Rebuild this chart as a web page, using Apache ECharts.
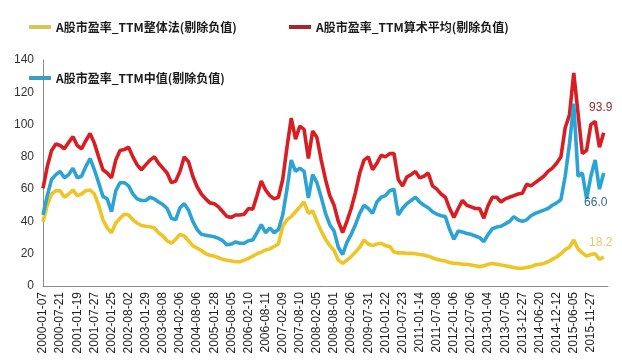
<!DOCTYPE html>
<html><head><meta charset="utf-8">
<script src="https://cdn.jsdelivr.net/npm/echarts@6/dist/echarts.min.js"></script>
<style>html,body{margin:0;padding:0;background:#fff}#c{width:622px;height:362px}</style>
</head><body><div id="c"></div>
<script>
// tick labels (one every POINTS_PER_LABEL data points)
const xLabels = ['2000-01-07','2000-07-21','2001-01-19','2001-07-27','2002-01-25','2002-08-02','2003-01-29','2003-08-08','2004-02-06','2004-08-06','2005-01-28','2005-08-05','2006-02-10','2006-08-11','2007-02-09','2007-08-10','2008-02-05','2008-08-01','2009-02-06','2009-07-31','2010-01-22','2010-07-23','2011-01-14','2011-07-08','2012-01-06','2012-07-06','2013-01-04','2013-07-05','2013-12-27','2014-06-20','2014-12-12','2015-06-05','2015-11-27'];
const POINTS_PER_LABEL = 4;

const seriesNames = ['A股市盈率_TTM整体法(剔除负值)','A股市盈率_TTM算术平均(剔除负值)','A股市盈率_TTM中值(剔除负值)'];

const peOverall = [
 39.8,50,57,59, 59,55,57,59.5, 56,57,59,59.5, 57,50,41,36,
 33,39,42,44.5, 44,41,39,37.5, 37,36.7,36,33, 31,28,26.5,29,
 32,31,28,25, 23.5,22,20,19, 18.5,17.5,16.5,16, 15.5,15,15,16,
 17,18.5,20,21, 22.3,23,24.5,26, 37,41,43,46, 49,52,45,46.5,
 40,34,29,25, 22,16,14,16, 18.2,21,24,28.5, 26,25,26,26.5,
 25,24.5,21,20.5, 20.5,20.2,20.2,20, 19.5,19.2,18.5,17.5, 16.5,16,15.5,14.5,
 14,14,13.5,13.5, 13,12.5,12,12.5, 13.5,14,13.5,13, 12.5,12,11.5,11,
 11,11.5,12,13, 13.5,14,15,16.5, 18,20,22.5,24, 28.5,23,20.5,18.5,
 19.5,20,16.5,18
];
const peMean = [
 60.5,74,84,88, 87,85,89,92.5, 87,85,90,94.5, 88.5,80,72,70,
 67,78,84,84.5, 86,80,75,72, 75,78,80,76, 73,70,64,65,
 71,80,77,68, 61.5,57,54,51.5, 51,49,46,43, 42.5,44,44,44.5,
 48,47.5,56,65, 59.5,56,54,55, 66,86,104,91, 99,97,79,96,
 92,78,66,56, 50,40,33,40, 48,58,70,78, 80,72,76,81,
 80,82,82,66, 62,67.5,69,71, 67,68,70,62, 60,57,55,48,
 42.5,48,53,50, 49,48,48,42, 50,55,55,52, 54,55,56,57,
 57.5,63,62,64, 66,68,71,73, 76,80,98,106, 132,107,82,84,
 100,102,86,95
];
const peMedian = [
 44,56,66,69, 71,67,69,73, 67,68,74,79, 72,64,55.5,54,
 46,59,64,64, 62,57,54,53, 53,55,54,52, 50.5,48,42,41,
 48.5,51,47,40, 35,32,31.5,31, 30.5,29.5,28,25.5, 26,27.3,26.5,26.5,
 28,28.5,33,38, 33,36,33,35, 44,60,78,71, 73,71,54.5,69,
 64,55,45,38, 34,24,19.5,27, 32,38,45,50, 48,45,52,55,
 56,59,60,44, 48,51,53,55, 52,50,48.5,46, 44.5,43.5,43,35,
 29,34,33.5,32.5, 32,31,30,27.5, 32,35.5,36.5,37, 38.5,40,43,41,
 40,41,43.5,45, 46,47,48,50, 51.5,53.5,68,88, 113,68,70,54,
 68,78,60,70
];
const endLabels = ['18.2','93.9','66.0'];

const lineColors = ['#efc425','#d81e22','#2ba3d4'];
const legendColors = ['#d9c45c','#a3262b','#3a9fc4'];
const endLabelColors = ['#e9c868','#8e2a30','#2d6d8d'];
const endOffsets = [[-3,-14],[-3,-25],[-8,30]];

const chart = echarts.init(document.getElementById('c'), null, {renderer:'canvas'});
const values = [peOverall, peMean, peMedian];
const legendPos = [[29,21],[289,21],[29,72]];

const option = {
  backgroundColor:'#fff',
  animation:false,
  grid:{left:43,right:14,top:60,bottom:76},
  legend: seriesNames.map((n,i)=>({
    left:legendPos[i][0], top:legendPos[i][1], padding:0,
    data:[{name:n, itemStyle:{color:legendColors[i]}}],
    icon:'rect', itemWidth:22, itemHeight:4,
    textStyle:{fontSize:12, fontWeight:'bold', color:'#1a1a1a', fontFamily:'Noto Sans CJK SC'}
  })),
  xAxis:{
    type:'value', min:0, max:xLabels.length*POINTS_PER_LABEL, interval:POINTS_PER_LABEL,
    axisLine:{show:true, lineStyle:{color:'#8c8c8c', width:1}},
    axisTick:{show:false}, splitLine:{show:false},
    axisLabel:{rotate:90, fontSize:12, color:'#1e1e1e', margin:6, fontFamily:'Liberation Sans',
      formatter:v=>xLabels[Math.round(v/POINTS_PER_LABEL)]||''}
  },
  yAxis:{
    type:'value', min:0, max:140, interval:20,
    axisLine:{show:true, lineStyle:{color:'#8c8c8c', width:1}},
    axisTick:{show:false}, splitLine:{show:false},
    axisLabel:{fontSize:12, color:'#333', margin:9, fontFamily:'Liberation Sans'}
  },
  series: seriesNames.map((n,i)=>({
    name:n, type:'line', showSymbol:false, symbol:'none',
    data: values[i].map((v,j)=>[j,v]),
    lineStyle:{color:lineColors[i], width:3.6},
    itemStyle:{color:lineColors[i]},
    endLabel:{show:true, formatter:()=>endLabels[i], color:endLabelColors[i], fontSize:12,
      fontFamily:'Liberation Sans', align:'center', verticalAlign:'middle', distance:0, offset:endOffsets[i]}
  }))
};
chart.setOption(option);
</script>
</body></html>
